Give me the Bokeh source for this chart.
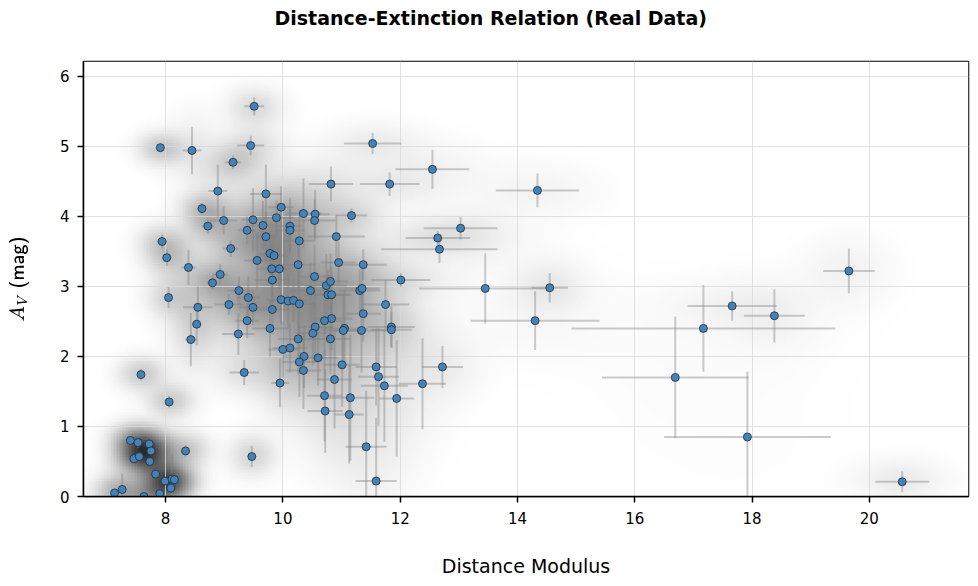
import numpy as np
from bokeh.plotting import figure
from bokeh.models import Range1d, FixedTicker, LinearColorMapper, Title
from bokeh.embed import file_html
from bokeh.resources import INLINE

# ---------------- data ----------------
dist_mod = [9.51, 7.91, 8.45, 9.45, 9.15, 8.89, 9.71, 8.62, 9.97, 9.49,
            8.72, 8.99, 9.66, 9.89, 10.12, 10.12, 10.35, 10.55, 10.54, 9.39,
            9.71, 10.28, 7.94, 8.02, 9.11, 9.78, 9.85, 9.56, 10.26, 8.39,
            8.93, 9.81, 9.94, 10.54, 8.80, 9.82, 8.05, 8.55, 8.53, 8.43,
            9.08, 9.25, 9.41, 9.49, 9.39, 9.24, 9.82, 9.78, 9.97, 10.09,
            10.18, 10.28, 10.47, 10.55, 10.51, 10.26, 10.00, 10.12, 10.36, 10.28,
            10.60, 10.35, 9.95, 9.34, 7.58, 8.06, 8.34, 9.47,
            7.40, 7.53, 7.72, 7.75, 7.46, 7.55, 7.73, 7.83, 7.99, 8.11,
            8.15, 8.09, 7.26, 7.13, 7.63, 7.90,
            11.53, 12.55, 10.82, 11.82, 11.17, 10.91, 13.03, 12.64, 12.67, 10.95,
            11.37, 12.01, 10.74, 10.81, 10.77, 10.83, 11.31, 11.35, 13.45, 11.75,
            11.37, 10.83, 10.71, 10.81, 11.05, 11.03, 11.34, 11.85, 11.85, 11.01,
            10.88, 11.59, 11.63, 11.73, 11.94, 12.38, 12.72, 10.71, 11.15, 10.72,
            11.13, 11.42, 11.59, 14.34, 14.55, 14.30, 19.65, 17.66, 18.38, 17.17,
            16.69, 17.92, 20.56]
a_v = [5.57, 4.98, 4.94, 5.01, 4.77, 4.36, 4.32, 4.11, 4.13, 3.95,
       3.86, 3.94, 3.87, 3.98, 3.86, 3.80, 4.04, 4.03, 3.94, 3.80,
       3.71, 3.65, 3.64, 3.41, 3.54, 3.47, 3.44, 3.37, 3.31, 3.27,
       3.17, 3.25, 3.25, 3.14, 3.05, 3.09, 2.84, 2.70, 2.46, 2.24,
       2.74, 2.94, 2.84, 2.70, 2.51, 2.32, 2.67, 2.40, 2.81, 2.79,
       2.80, 2.75, 2.94, 2.42, 2.33, 2.25, 2.10, 2.12, 2.00, 1.92,
       1.98, 1.80, 1.62, 1.77, 1.74, 1.35, 0.65, 0.57,
       0.80, 0.77, 0.75, 0.65, 0.54, 0.57, 0.50, 0.32, 0.22, 0.25,
       0.24, 0.12, 0.10, 0.05, 0.00, 0.04,
       5.04, 4.67, 4.46, 4.46, 4.01, 3.71, 3.83, 3.69, 3.53, 3.34,
       3.31, 3.09, 3.01, 3.07, 2.88, 2.88, 2.94, 2.97, 2.97, 2.74,
       2.61, 2.54, 2.51, 2.25, 2.40, 2.37, 2.37, 2.42, 2.38, 1.88,
       1.67, 1.85, 1.71, 1.58, 1.40, 1.61, 1.85, 1.44, 1.41, 1.22,
       1.17, 0.71, 0.22, 4.37, 2.98, 2.51, 3.22, 2.72, 2.58, 2.40,
       1.70, 0.85, 0.21]
dist_err = [0.17, 0.05, 0.16, 0.23, 0.13, 0.16, 0.27, 0.08, 0.22, 0.20,
            0.10, 0.23, 0.25, 0.30, 0.22, 0.25, 0.30, 0.25, 0.35, 0.15,
            0.20, 0.25, 0.08, 0.08, 0.13, 0.20, 0.25, 0.22, 0.30, 0.12,
            0.13, 0.25, 0.20, 0.30, 0.10, 0.30, 0.05, 0.25, 0.08, 0.10,
            0.25, 0.20, 0.20, 0.25, 0.20, 0.28, 0.30, 0.30, 0.25, 0.30,
            0.25, 0.30, 0.35, 0.30, 0.30, 0.35, 0.25, 0.30, 0.35, 0.30,
            0.35, 0.30, 0.15, 0.25, 0.05, 0.05, 0.05, 0.05,
            0.03, 0.03, 0.03, 0.03, 0.03, 0.03, 0.03, 0.03, 0.03, 0.03,
            0.03, 0.03, 0.03, 0.03, 0.03, 0.03,
            0.49, 0.63, 0.38, 0.51, 0.27, 0.49, 0.63, 0.55, 0.99, 0.30,
            0.40, 0.50, 0.35, 0.30, 0.40, 0.30, 0.35, 0.30, 1.13, 0.40,
            0.30, 0.35, 0.30, 0.35, 0.40, 0.35, 0.45, 0.40, 0.35, 0.30,
            0.30, 0.35, 0.35, 0.40, 0.30, 0.40, 0.35, 0.30, 0.40, 0.30,
            0.25, 0.35, 0.35, 0.71, 0.31, 1.10, 0.44, 0.76, 0.52, 2.25,
            1.25, 1.42, 0.46]
av_err = [0.13, 0.05, 0.34, 0.14, 0.10, 0.38, 0.42, 0.08, 0.30, 0.45,
          0.11, 0.20, 0.35, 0.25, 0.40, 0.30, 0.50, 0.35, 0.30, 0.20,
          0.35, 0.45, 0.10, 0.12, 0.12, 0.30, 0.25, 0.40, 0.35, 0.25,
          0.15, 0.40, 0.30, 0.45, 0.10, 0.40, 0.15, 0.30, 0.30, 0.38,
          0.15, 0.20, 0.30, 0.25, 0.25, 0.30, 0.35, 0.40, 0.35, 0.40,
          0.30, 0.45, 0.40, 0.50, 0.45, 0.50, 0.40, 0.35, 0.45, 0.50,
          0.40, 0.55, 0.35, 0.18, 0.08, 0.08, 0.08, 0.15,
          0.05, 0.08, 0.05, 0.05, 0.05, 0.05, 0.05, 0.05, 0.05, 0.35,
          0.05, 0.05, 0.23, 0.05, 0.05, 0.05,
          0.15, 0.28, 0.25, 0.17, 0.10, 0.30, 0.16, 0.10, 0.20, 0.30,
          0.22, 0.10, 0.45, 0.40, 0.35, 0.40, 0.30, 0.35, 0.50, 0.35,
          0.40, 0.45, 0.50, 0.50, 0.55, 0.50, 0.60, 0.30, 0.25, 0.60,
          0.70, 0.55, 0.70, 0.80, 0.83, 0.65, 0.30, 0.65, 0.90, 0.60,
          0.70, 0.80, 0.90, 0.24, 0.21, 0.42, 0.32, 0.21, 0.38, 0.62,
          0.87, 0.93, 0.15]

x_ticks = [8, 10, 12, 14, 16, 18, 20]
y_ticks = [0, 1, 2, 3, 4, 5, 6]
title_text = "Distance-Extinction Relation (Real Data)"
x_label = "Distance Modulus"
y_label = r"$$A_V\ \mathsf{(mag)}$$"

X = np.array(dist_mod)
Y = np.array(a_v)
XE = np.array(dist_err)
YE = np.array(av_err)

x_lo, x_hi = 6.6, 21.69
y_lo, y_hi = 0.0, 6.21

# ---------------- density background (error-aware weighted gaussian KDE) ----------------
nx, ny = 295, 145
gx = np.linspace(x_lo, x_hi, nx)
gy = np.linspace(y_lo, y_hi, ny)
GX, GY = np.meshgrid(gx, gy)
dens = np.zeros_like(GX)
for xi, yi, exi, eyi in zip(X, Y, XE, YE):
    sx = np.hypot(0.25, 0.9 * exi)
    sy = np.hypot(0.14, 0.9 * eyi)
    w = (0.3 + exi + eyi) ** -0.35
    dens += w * np.exp(-0.5 * ((GX - xi) / sx) ** 2 - 0.5 * ((GY - yi) / sy) ** 2) / (2 * np.pi * sx * sy)
dens = (dens / dens.max()) ** 0.85

levels = np.linspace(255, 40, 256).astype(int)
palette = ["#%02x%02x%02x" % (v, v, v) for v in levels]
mapper = LinearColorMapper(palette=palette, low=0, high=1.0)

p = figure(width=978, height=586, output_backend="svg", toolbar_location=None,
           x_range=Range1d(x_lo, x_hi), y_range=Range1d(y_lo, y_hi),
           min_border_left=83, min_border_right=10, min_border_top=61, min_border_bottom=90,
           background_fill_color="white", border_fill_color="white")

p.image(image=[dens], x=x_lo, y=y_lo, dw=x_hi - x_lo, dh=y_hi - y_lo,
        color_mapper=mapper, level="image")

# error bars
p.segment(x0=X - XE, y0=Y, x1=X + XE, y1=Y, line_color="#808080", line_alpha=0.4, line_width=2)
p.segment(x0=X, y0=Y - YE, x1=X, y1=Y + YE, line_color="#808080", line_alpha=0.4, line_width=2)

# points
p.scatter(X, Y, size=8, fill_color="#4682b4", line_color="#1c2f42", line_width=0.8)

# title (outermost) + spacer between title and frame
p.title.text = title_text
p.title.text_font = "DejaVu Sans"
p.title.text_font_style = "bold"
p.title.text_font_size = "19px"
p.title.text_color = "black"
p.title.align = "left"
p.title.offset = 191
p.title.standoff = 6
p.title.vertical_align = "bottom"
p.add_layout(Title(text=" ", text_font_size="10px", standoff=17), "above")

# axes
for ax in (p.xaxis[0], p.yaxis[0]):
    ax.axis_line_color = "black"
    ax.axis_line_width = 1.5
    ax.major_tick_line_color = "black"
    ax.major_tick_line_width = 1.5
    ax.major_tick_out = 6
    ax.major_tick_in = 0
    ax.minor_tick_line_color = None
    ax.major_label_text_font = "DejaVu Sans"
    ax.major_label_text_font_size = "15px"
    ax.major_label_text_color = "black"
    ax.axis_label_text_font = "DejaVu Sans"
    ax.axis_label_text_font_style = "normal"
    ax.axis_label_text_color = "black"

p.xaxis.ticker = FixedTicker(ticks=x_ticks)
p.yaxis.ticker = FixedTicker(ticks=y_ticks)
p.xaxis.axis_label = x_label
p.xaxis.axis_label_text_font_size = "19px"
p.xaxis.major_label_standoff = 9
p.xaxis.axis_label_standoff = 28
p.yaxis.axis_label = y_label
p.yaxis.axis_label_text_font_size = "15px"
p.yaxis.major_label_standoff = 8
p.yaxis.axis_label_standoff = 28

p.xgrid.ticker = FixedTicker(ticks=x_ticks)
p.ygrid.ticker = FixedTicker(ticks=y_ticks)
p.grid.grid_line_color = "#d9d9d9"
p.grid.grid_line_alpha = 0.8
p.grid.grid_line_width = 1

p.outline_line_color = "black"
p.outline_line_width = 1.5
p.outline_line_alpha = 1.0

open("out.html", "w").write(file_html(p, INLINE))
